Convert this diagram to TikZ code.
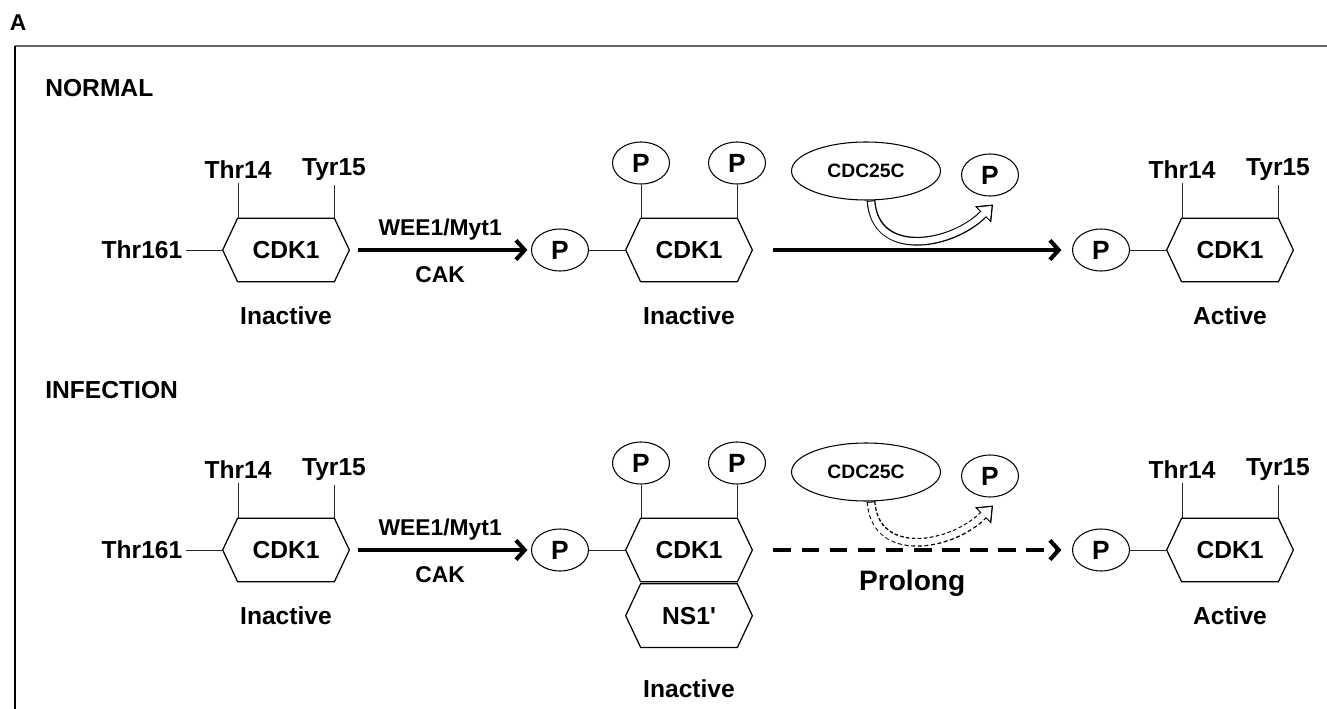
\documentclass[tikz,border=0pt]{standalone}
\usepackage{fontspec}
\setmainfont{Liberation Sans}
\usetikzlibrary{shapes.geometric, arrows.meta, positioning}
\tikzset{
    hexa/.style = {minimum width=2.52cm, minimum height=1.26cm, inner sep=0pt,
                   font=\fontsize{14}{16}\selectfont\bfseries,
                   append after command={\pgfextra{\let\hexbox\tikzlastnode
                       \draw[line width=0.7pt]
                           (\hexbox.west) -- ([xshift=0.3cm]\hexbox.north west)
                           -- ([xshift=-0.3cm]\hexbox.north east) -- (\hexbox.east)
                           -- ([xshift=-0.3cm]\hexbox.south east)
                           -- ([xshift=0.3cm]\hexbox.south west) -- cycle;}}},
    phos/.style = {ellipse, draw, line width=0.6pt, minimum width=1.14cm,
                   minimum height=0.84cm, inner sep=0pt,
                   font=\fontsize{15}{17}\selectfont\bfseries},
    enzyme/.style = {ellipse, draw, line width=0.6pt, minimum width=2.98cm,
                     minimum height=1.16cm, inner sep=0pt,
                     font=\fontsize{11}{13}\selectfont\bfseries},
    site/.style = {inner sep=2pt, font=\fontsize{14}{16}\selectfont\bfseries},
    state/.style = {font=\fontsize{14}{16}\selectfont\bfseries},
    title/.style = {anchor=west, inner sep=0pt, font=\fontsize{14}{16}\selectfont\bfseries},
    lbl/.style = {font=\fontsize{13}{15}\selectfont\bfseries},
    bond/.style = {line width=0.5pt, draw=black!85},
    arrow/.style = {line width=2.3pt, -{Straight Barb[length=5pt, width=11pt]}},
    hollow/.style = {line width=5pt, -{Triangle[length=8pt, width=13pt, line width=0.4pt]}},
    hollowin/.style = {line width=3.6pt, white, shorten >=1.2pt, shorten <=0.6pt,
                       -{Triangle[length=6.2pt, width=10pt, line width=0.4pt]}},
}

\begin{document}
\begin{tikzpicture}[x=0.02cm, y=-0.02cm]
\useasboundingbox (0,0) rectangle (1327,709);

% panel frame
\node[font=\fontsize{13}{15}\selectfont\bfseries] (tag) at (18,23) {A};
\draw[line width=1.2pt, black!60] (15,46) -- (1327,46);
\draw[line width=1.2pt] (15,46) -- (15,709);

% normal
\node[title] (normal) at (45,88) {NORMAL};
\node[hexa] (cdkA1) at (286,250) {CDK1};
\node[site] (thrA1) at (238,170) {Thr14};
\node[site] (tyrA1) at (334,170) {Tyr15};
\node[site, left=0.73cm of cdkA1] (thr161a) {Thr161};
\node[state, below=0.37cm of cdkA1] (inA1) {Inactive};

\node[phos] (pB1) at (560,250) {P};
\node[hexa] (cdkB1) at (689,250) {CDK1};
\node[phos] (pT1) at (641,163) {P};
\node[phos] (pY1) at (737,163) {P};
\node[state, below=0.37cm of cdkB1] (inB1) {Inactive};

\node[enzyme] (cdc1) at (866,171) {CDC25C};
\node[phos] (pfree1) at (990,175) {P};
\coordinate (tip1) at ([shift={(3,8)}]pfree1.south);

\node[phos] (pC1) at (1101,250) {P};
\node[hexa] (cdkC1) at (1230,250) {CDK1};
\node[site] (thrC1) at (1182,170) {Thr14};
\node[site] (tyrC1) at (1278,170) {Tyr15};
\node[state, below=0.37cm of cdkC1] (actC1) {Active};

% bonds
\draw[bond] (thr161a) -- (cdkA1.west);
\draw[bond] (thrA1) -- (thrA1 |- cdkA1.north);
\draw[bond] (tyrA1) -- (tyrA1 |- cdkA1.north);
\draw[bond] (pB1) -- (cdkB1.west);
\draw[bond] (pT1) -- (pT1 |- cdkB1.north);
\draw[bond] (pY1) -- (pY1 |- cdkB1.north);
\draw[bond] (pC1) -- (cdkC1.west);
\draw[bond] (thrC1) -- (thrC1 |- cdkC1.north);
\draw[bond] (tyrC1) -- (tyrC1 |- cdkC1.north);

% Arrows
\draw[arrow, shorten <=5pt, shorten >=2pt] (cdkA1) --
    node[lbl, above=1pt] {WEE1/Myt1} node[lbl, below=5pt] {CAK} (pB1);
\draw[arrow, shorten <=12pt, shorten >=6pt] (cdkB1) -- (pC1);
\draw[hollow] ([xshift=0.1cm]cdc1.south) .. controls +(4,58) and +(-42,42) .. (tip1);
\draw[hollowin] ([xshift=0.1cm]cdc1.south) .. controls +(4,58) and +(-42,42) .. (tip1);

% infection
\node[title] (infection) at (45,390) {INFECTION};
\node[hexa] (cdkA2) at (286,550) {CDK1};
\node[site] (thrA2) at (238,470) {Thr14};
\node[site] (tyrA2) at (334,470) {Tyr15};
\node[site, left=0.73cm of cdkA2] (thr161b) {Thr161};
\node[state, below=0.37cm of cdkA2] (inA2) {Inactive};

\node[phos] (pB2) at (560,550) {P};
\node[hexa] (cdkB2) at (689,550) {CDK1};
\node[hexa, below=0.04cm of cdkB2] (ns1) {NS1\textquotesingle};
\node[phos] (pT2) at (641,463) {P};
\node[phos] (pY2) at (737,463) {P};
\node[state, below=0.52cm of ns1] (inB2) {Inactive};

\node[enzyme] (cdc2) at (866,472) {CDC25C};
\node[phos] (pfree2) at (990,476) {P};
\coordinate (tip2) at ([shift={(3,8)}]pfree2.south);

\node[phos] (pC2) at (1101,550) {P};
\node[hexa] (cdkC2) at (1230,550) {CDK1};
\node[site] (thrC2) at (1182,470) {Thr14};
\node[site] (tyrC2) at (1278,470) {Tyr15};
\node[state, below=0.37cm of cdkC2] (actC2) {Active};

% bonds
\draw[bond] (thr161b) -- (cdkA2.west);
\draw[bond] (thrA2) -- (thrA2 |- cdkA2.north);
\draw[bond] (tyrA2) -- (tyrA2 |- cdkA2.north);
\draw[bond] (pB2) -- (cdkB2.west);
\draw[bond] (pT2) -- (pT2 |- cdkB2.north);
\draw[bond] (pY2) -- (pY2 |- cdkB2.north);
\draw[bond] (pC2) -- (cdkC2.west);
\draw[bond] (thrC2) -- (thrC2 |- cdkC2.north);
\draw[bond] (tyrC2) -- (tyrC2 |- cdkC2.north);

% Arrows
\draw[arrow, shorten <=5pt, shorten >=2pt] (cdkA2) --
    node[lbl, above=1pt] {WEE1/Myt1} node[lbl, below=5pt] {CAK} (pB2);
\draw[arrow, dash pattern=on 10pt off 6pt, shorten <=12pt, shorten >=6pt] (cdkB2) --
    node[below=7pt, font=\fontsize{16}{18}\selectfont\bfseries] {Prolong} (pC2);
\draw[hollow, dash pattern=on 2.2pt off 1.4pt] ([xshift=0.1cm]cdc2.south) .. controls +(4,58) and +(-42,42) .. (tip2);
\draw[hollowin] ([xshift=0.1cm]cdc2.south) .. controls +(4,58) and +(-42,42) .. (tip2);
\end{tikzpicture}
\end{document}
